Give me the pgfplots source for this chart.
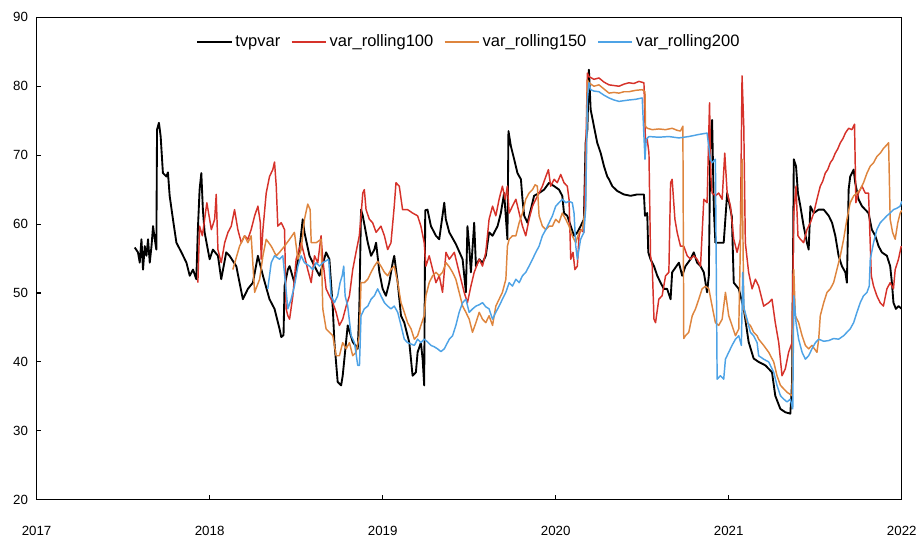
\documentclass[border=0pt]{standalone}
\usepackage{fontspec}
\setmainfont{Liberation Sans}
\usepackage{pgfplots}
\pgfplotsset{compat=1.18}
\definecolor{cRed}{RGB}{214,50,42}
\definecolor{cOrange}{RGB}{222,133,62}
\definecolor{cBlue}{RGB}{78,163,230}

\begin{document}
\begin{tikzpicture}
\begin{axis}[
  scale only axis, width=650pt, height=362.5pt,
  xmin=2017, xmax=2022, ymin=20, ymax=90,
  xtick={2017,2018,2019,2020,2021,2022}, ytick={20,30,40,50,60,70,80,90},
  tick pos=left, tick align=inside, major tick length=3.5pt,
  axis line style={line width=0.8pt},
  tick style={line width=0.8pt, black},
  /pgf/number format/assume math mode=true,
  /pgf/number format/1000 sep={},
  ticklabel style={font=\fontsize{10}{12}\selectfont},
  xticklabel style={yshift=-16pt},
  yticklabel style={xshift=-3pt},
  legend columns=4,
  legend style={at={(0.5,0.975)}, anchor=north, draw=none, fill=none,
    font=\fontsize{12.4}{14}\selectfont,
    /tikz/every even column/.append style={column sep=6pt}},
  legend image code/.code={\draw[#1] (0pt,0pt) -- (26pt,0pt);},
  every axis plot/.append style={line join=round},
]

% tvpvar
\addplot[black, line width=1.4pt] table {
x y
2017.567 56.6
2017.586 55.9
2017.596 54.4
2017.606 57.8
2017.615 53.4
2017.625 56.8
2017.635 55.4
2017.644 57.8
2017.654 54.4
2017.664 56.8
2017.673 59.7
2017.683 57.8
2017.692 56.3
2017.696 73.7
2017.707 74.7
2017.717 72.7
2017.730 67.4
2017.750 66.9
2017.759 67.5
2017.769 64.1
2017.788 60.7
2017.808 57.3
2017.837 55.9
2017.866 54.4
2017.885 52.5
2017.904 53.4
2017.923 52.0
2017.932 59.2
2017.942 65.0
2017.952 67.4
2017.961 62.1
2017.971 58.8
2018.000 54.9
2018.019 56.3
2018.048 55.4
2018.067 52.0
2018.096 55.9
2018.115 55.4
2018.154 53.9
2018.192 49.1
2018.221 50.6
2018.250 51.5
2018.279 55.4
2018.308 52.5
2018.346 49.1
2018.375 47.7
2018.404 44.8
2018.414 43.6
2018.427 43.9
2018.433 51.0
2018.452 53.4
2018.462 53.9
2018.490 51.5
2018.519 56.3
2018.538 60.7
2018.548 58.8
2018.577 55.4
2018.606 53.9
2018.635 52.5
2018.673 55.9
2018.692 54.9
2018.712 47.7
2018.721 42.9
2018.740 37.1
2018.760 36.6
2018.769 38.0
2018.798 45.3
2018.827 42.9
2018.856 41.9
2018.865 47.7
2018.875 62.1
2018.885 61.2
2018.914 57.3
2018.933 55.4
2018.952 56.3
2018.962 57.3
2018.981 53.0
2019.000 50.6
2019.019 49.6
2019.038 51.5
2019.058 54.4
2019.067 55.4
2019.087 51.5
2019.106 46.7
2019.125 45.7
2019.154 42.8
2019.173 38.0
2019.192 38.5
2019.202 41.4
2019.221 42.8
2019.231 40.4
2019.240 36.6
2019.246 62.0
2019.259 62.1
2019.279 59.7
2019.308 58.3
2019.327 57.8
2019.356 63.1
2019.365 60.7
2019.385 58.8
2019.423 57.1
2019.462 54.9
2019.481 50.1
2019.490 59.7
2019.500 56.8
2019.510 53.0
2019.529 60.2
2019.539 53.9
2019.558 54.9
2019.577 54.4
2019.596 55.4
2019.615 58.8
2019.635 58.3
2019.664 59.7
2019.683 61.6
2019.702 64.5
2019.721 57.8
2019.727 73.5
2019.741 71.3
2019.760 69.4
2019.779 67.4
2019.799 66.5
2019.808 63.6
2019.818 61.2
2019.837 60.2
2019.856 62.1
2019.875 64.1
2019.904 64.5
2019.933 65.0
2019.962 66.0
2019.991 65.5
2020.019 65.0
2020.038 64.1
2020.048 61.6
2020.067 61.2
2020.087 59.7
2020.106 58.3
2020.125 58.8
2020.144 59.7
2020.163 60.7
2020.173 71.8
2020.183 73.7
2020.192 82.4
2020.202 76.6
2020.221 74.2
2020.240 71.8
2020.260 70.3
2020.279 68.4
2020.298 66.9
2020.308 66.5
2020.327 65.5
2020.356 64.8
2020.394 64.3
2020.433 64.1
2020.471 64.3
2020.510 64.3
2020.516 61.2
2020.529 61.6
2020.535 55.9
2020.548 54.9
2020.568 53.9
2020.587 52.5
2020.606 51.5
2020.625 50.6
2020.644 50.6
2020.664 49.1
2020.673 53.0
2020.712 54.4
2020.731 52.5
2020.750 53.9
2020.779 54.9
2020.798 55.9
2020.817 54.4
2020.837 53.9
2020.856 53.0
2020.875 50.1
2020.885 52.5
2020.894 71.8
2020.904 75.1
2020.914 62.1
2020.923 57.3
2020.942 57.3
2020.971 57.3
2020.991 64.5
2021.018 61.1
2021.029 51.5
2021.058 50.6
2021.087 47.7
2021.115 42.9
2021.144 40.5
2021.173 40.0
2021.212 39.5
2021.250 38.5
2021.269 35.1
2021.298 33.2
2021.327 32.7
2021.356 32.5
2021.366 37.0
2021.376 69.4
2021.389 68.4
2021.400 64.5
2021.414 62.6
2021.433 59.7
2021.452 57.3
2021.462 56.3
2021.472 62.6
2021.491 61.6
2021.520 62.1
2021.549 62.1
2021.578 61.2
2021.597 60.2
2021.616 58.3
2021.635 55.4
2021.654 53.9
2021.674 53.0
2021.683 51.5
2021.693 65.0
2021.702 66.9
2021.722 67.9
2021.731 66.0
2021.750 63.6
2021.770 62.6
2021.789 62.1
2021.808 61.6
2021.827 59.2
2021.847 58.3
2021.866 56.8
2021.885 55.9
2021.914 55.4
2021.933 53.9
2021.943 51.5
2021.952 48.6
2021.966 47.7
2021.981 48.1
2022.000 47.7
};
\addlegendentry{tvpvar}

% var_rolling100
\addplot[cRed, line width=1.1pt] table {
x y
2017.932 51.5
2017.942 59.7
2017.958 58.3
2017.971 60.7
2017.984 63.1
2018.000 60.7
2018.010 59.2
2018.029 60.7
2018.038 64.3
2018.048 56.3
2018.067 54.4
2018.087 57.3
2018.106 58.8
2018.125 59.7
2018.144 62.1
2018.163 59.2
2018.183 57.3
2018.202 58.3
2018.221 57.8
2018.240 59.2
2018.260 61.2
2018.279 62.6
2018.293 60.2
2018.298 54.9
2018.308 59.2
2018.327 64.5
2018.346 66.9
2018.365 67.9
2018.375 69.0
2018.385 65.5
2018.394 59.7
2018.414 60.2
2018.433 59.2
2018.442 47.7
2018.452 46.7
2018.462 46.2
2018.481 49.6
2018.500 54.9
2018.529 57.3
2018.548 55.4
2018.567 53.4
2018.587 51.5
2018.606 55.4
2018.625 54.4
2018.644 58.3
2018.654 54.9
2018.673 50.6
2018.692 49.6
2018.712 48.6
2018.731 47.2
2018.750 45.3
2018.769 46.2
2018.789 48.1
2018.808 49.6
2018.827 53.4
2018.846 55.9
2018.865 58.3
2018.875 61.2
2018.885 64.5
2018.894 65.0
2018.904 62.1
2018.923 60.7
2018.942 60.2
2018.962 58.8
2018.990 59.7
2019.010 58.3
2019.029 56.3
2019.048 57.3
2019.067 62.6
2019.077 66.0
2019.096 65.5
2019.115 62.1
2019.144 62.1
2019.173 61.6
2019.202 61.2
2019.221 59.7
2019.240 57.3
2019.250 53.9
2019.269 55.4
2019.289 53.4
2019.308 51.5
2019.327 52.5
2019.346 50.1
2019.366 55.9
2019.385 54.9
2019.414 55.9
2019.442 53.0
2019.471 50.1
2019.490 48.6
2019.510 51.0
2019.529 53.0
2019.558 54.9
2019.577 53.9
2019.596 55.9
2019.615 60.7
2019.635 62.6
2019.654 61.2
2019.673 63.6
2019.692 65.5
2019.708 63.6
2019.721 65.5
2019.731 61.6
2019.750 62.6
2019.770 63.6
2019.789 61.6
2019.808 59.7
2019.827 58.3
2019.846 60.7
2019.866 62.6
2019.885 63.6
2019.904 64.5
2019.923 65.5
2019.943 66.9
2019.958 67.9
2019.971 65.5
2019.991 66.5
2020.009 66.0
2020.029 67.2
2020.048 66.0
2020.067 65.5
2020.077 63.6
2020.087 54.9
2020.100 55.9
2020.111 53.4
2020.125 53.9
2020.135 58.3
2020.144 59.2
2020.163 58.8
2020.173 69.4
2020.183 81.9
2020.192 81.4
2020.221 81.0
2020.250 81.2
2020.279 80.6
2020.308 80.2
2020.337 80.1
2020.366 80.0
2020.394 80.3
2020.423 80.5
2020.452 80.4
2020.481 80.7
2020.510 80.5
2020.519 71.8
2020.529 72.3
2020.539 70.3
2020.548 55.4
2020.558 53.9
2020.568 46.2
2020.577 45.7
2020.596 49.1
2020.615 49.6
2020.635 52.5
2020.654 53.0
2020.664 66.0
2020.673 66.5
2020.689 60.7
2020.702 58.8
2020.721 56.8
2020.740 56.8
2020.760 55.4
2020.779 54.9
2020.798 55.4
2020.817 54.9
2020.837 53.9
2020.856 63.6
2020.875 63.1
2020.889 77.6
2020.897 66.9
2020.904 64.5
2020.923 64.1
2020.942 64.5
2020.962 63.6
2020.977 70.3
2020.991 64.5
2021.010 62.6
2021.029 57.8
2021.048 55.9
2021.067 57.8
2021.077 81.5
2021.087 74.2
2021.096 57.3
2021.115 53.0
2021.135 50.6
2021.154 52.0
2021.173 51.0
2021.202 48.1
2021.231 48.6
2021.250 49.1
2021.269 45.7
2021.289 42.8
2021.308 38.0
2021.327 39.0
2021.346 41.4
2021.366 42.8
2021.376 61.6
2021.389 65.5
2021.400 58.3
2021.414 57.8
2021.433 57.3
2021.452 59.2
2021.472 60.2
2021.491 61.6
2021.510 63.6
2021.529 65.5
2021.543 66.2
2021.558 67.4
2021.572 67.9
2021.587 68.9
2021.601 69.4
2021.616 70.3
2021.630 70.9
2021.645 71.8
2021.660 72.4
2021.674 73.2
2021.693 73.9
2021.712 73.7
2021.727 74.5
2021.735 63.1
2021.750 64.5
2021.770 65.5
2021.789 64.5
2021.808 64.5
2021.824 52.5
2021.837 51.0
2021.856 49.6
2021.875 48.6
2021.894 48.1
2021.914 50.6
2021.933 51.5
2021.952 50.6
2021.962 53.4
2021.981 54.9
2021.997 56.8
};
\addlegendentry{var\_rolling100}

% var_rolling150
\addplot[cOrange, line width=1.1pt] table {
x y
2018.134 53.4
2018.173 56.8
2018.202 58.3
2018.221 57.3
2018.240 58.3
2018.260 50.1
2018.289 52.0
2018.308 55.4
2018.327 57.8
2018.356 56.8
2018.385 55.4
2018.404 55.9
2018.433 56.8
2018.462 57.8
2018.490 58.8
2018.510 54.9
2018.529 56.3
2018.548 60.7
2018.567 62.9
2018.581 62.1
2018.587 57.3
2018.616 57.3
2018.644 57.8
2018.654 47.7
2018.673 44.8
2018.692 44.3
2018.712 43.8
2018.731 40.9
2018.750 40.9
2018.769 42.8
2018.789 41.9
2018.808 42.8
2018.827 40.9
2018.846 41.4
2018.865 43.8
2018.875 51.5
2018.894 51.5
2018.914 52.0
2018.933 53.0
2018.952 53.9
2018.971 54.6
2018.990 53.9
2019.010 53.0
2019.029 52.5
2019.048 53.4
2019.067 53.9
2019.087 51.5
2019.106 48.6
2019.125 47.2
2019.144 45.7
2019.164 44.8
2019.183 43.3
2019.202 43.8
2019.221 45.3
2019.240 46.7
2019.250 49.6
2019.269 51.5
2019.289 52.5
2019.308 53.0
2019.327 52.5
2019.346 53.0
2019.366 54.4
2019.385 53.8
2019.404 53.0
2019.423 52.0
2019.442 50.1
2019.462 48.1
2019.481 47.2
2019.500 46.2
2019.519 44.3
2019.539 45.7
2019.558 47.2
2019.577 46.2
2019.596 45.7
2019.615 46.7
2019.635 45.3
2019.654 48.1
2019.673 49.1
2019.692 50.1
2019.712 52.0
2019.721 56.8
2019.731 57.8
2019.750 58.3
2019.770 58.3
2019.789 60.2
2019.808 61.6
2019.827 63.6
2019.846 64.5
2019.866 65.0
2019.881 65.7
2019.894 65.5
2019.904 61.2
2019.923 59.7
2019.943 59.2
2019.962 59.7
2019.981 59.7
2020.000 60.7
2020.019 60.2
2020.038 61.6
2020.058 60.7
2020.077 59.7
2020.096 58.3
2020.116 57.3
2020.135 58.8
2020.154 59.2
2020.173 62.6
2020.183 80.9
2020.192 80.5
2020.221 80.0
2020.250 80.2
2020.279 79.6
2020.308 79.0
2020.337 79.1
2020.366 79.0
2020.394 79.2
2020.423 79.2
2020.461 79.4
2020.500 79.5
2020.516 79.2
2020.519 74.2
2020.529 73.9
2020.558 73.7
2020.596 73.8
2020.635 73.7
2020.673 73.9
2020.702 73.6
2020.721 73.5
2020.735 74.2
2020.740 43.4
2020.750 43.8
2020.769 44.3
2020.789 46.7
2020.808 47.7
2020.827 49.1
2020.846 50.6
2020.866 51.0
2020.885 50.6
2020.904 48.1
2020.923 45.7
2020.942 45.3
2020.962 46.2
2020.981 50.1
2021.000 46.7
2021.019 45.3
2021.039 43.8
2021.058 44.8
2021.077 69.4
2021.087 47.7
2021.106 45.7
2021.125 45.3
2021.144 44.3
2021.164 43.8
2021.173 43.3
2021.202 42.4
2021.231 41.4
2021.260 40.0
2021.279 38.0
2021.299 36.6
2021.318 36.1
2021.337 35.6
2021.366 35.1
2021.376 53.4
2021.385 46.7
2021.404 45.7
2021.424 43.8
2021.443 42.4
2021.462 41.9
2021.481 42.4
2021.510 41.4
2021.520 43.3
2021.529 46.7
2021.549 48.6
2021.568 50.1
2021.587 50.6
2021.606 51.5
2021.625 53.4
2021.645 55.4
2021.664 57.8
2021.683 60.7
2021.702 63.1
2021.722 64.1
2021.741 64.5
2021.760 65.0
2021.779 66.0
2021.799 67.4
2021.818 68.4
2021.837 68.9
2021.856 69.8
2021.876 70.3
2021.895 71.0
2021.914 71.5
2021.924 71.8
2021.933 60.7
2021.947 58.8
2021.962 57.8
2021.977 60.2
2021.991 61.6
2022.000 62.0
};
\addlegendentry{var\_rolling150}

% var_rolling200
\addplot[cBlue, line width=1.1pt] table {
x y
2018.336 50.6
2018.356 54.4
2018.375 55.4
2018.404 54.9
2018.423 55.4
2018.443 50.1
2018.452 47.7
2018.471 49.1
2018.490 51.0
2018.510 53.9
2018.529 55.4
2018.548 54.4
2018.577 53.9
2018.596 53.4
2018.616 54.4
2018.635 53.9
2018.654 54.4
2018.688 54.9
2018.702 49.6
2018.721 48.6
2018.740 49.6
2018.754 51.5
2018.766 52.5
2018.775 53.9
2018.783 49.6
2018.798 48.1
2018.818 43.8
2018.837 42.8
2018.856 39.5
2018.866 39.5
2018.875 46.7
2018.894 47.7
2018.914 48.1
2018.933 49.1
2018.952 49.6
2018.971 50.6
2018.990 49.6
2019.010 48.6
2019.029 48.1
2019.048 47.7
2019.067 48.1
2019.087 47.2
2019.106 45.3
2019.125 43.3
2019.144 42.8
2019.164 42.6
2019.183 42.4
2019.202 43.3
2019.221 42.8
2019.240 43.3
2019.260 42.9
2019.279 42.4
2019.298 42.2
2019.317 41.9
2019.337 41.5
2019.356 41.9
2019.385 43.3
2019.404 43.8
2019.423 45.3
2019.442 47.2
2019.462 48.6
2019.481 49.1
2019.500 47.2
2019.520 47.7
2019.539 48.1
2019.558 48.3
2019.577 48.6
2019.596 48.0
2019.615 47.7
2019.635 46.2
2019.654 47.2
2019.673 48.1
2019.692 49.1
2019.712 50.1
2019.731 51.5
2019.750 51.0
2019.770 52.0
2019.789 51.5
2019.808 52.5
2019.827 53.0
2019.846 53.9
2019.866 54.9
2019.885 55.9
2019.904 56.8
2019.923 58.3
2019.943 59.2
2019.962 60.2
2019.981 61.2
2020.000 62.6
2020.019 63.1
2020.038 63.6
2020.058 63.1
2020.077 63.3
2020.096 63.1
2020.106 61.6
2020.116 56.8
2020.125 54.9
2020.144 57.8
2020.163 58.8
2020.173 62.1
2020.183 78.0
2020.192 80.5
2020.202 79.5
2020.221 79.3
2020.250 79.2
2020.279 78.7
2020.308 78.3
2020.337 78.0
2020.366 77.8
2020.394 77.9
2020.423 78.0
2020.461 78.1
2020.500 78.3
2020.516 69.4
2020.523 72.3
2020.539 72.7
2020.596 72.6
2020.654 72.7
2020.712 72.5
2020.769 72.7
2020.827 73.0
2020.875 73.2
2020.894 69.4
2020.904 68.9
2020.923 69.4
2020.933 37.5
2020.952 38.0
2020.971 37.5
2020.981 40.4
2021.000 41.4
2021.019 42.4
2021.039 43.3
2021.058 43.8
2021.073 42.4
2021.081 53.0
2021.089 47.7
2021.106 46.2
2021.125 44.3
2021.144 43.8
2021.164 42.8
2021.173 40.9
2021.202 40.4
2021.231 40.0
2021.260 38.5
2021.279 36.6
2021.299 35.1
2021.318 34.6
2021.337 34.2
2021.356 34.6
2021.370 33.2
2021.376 49.6
2021.389 45.7
2021.404 43.3
2021.424 41.4
2021.443 40.4
2021.462 40.9
2021.481 41.9
2021.501 42.8
2021.520 43.3
2021.549 43.0
2021.578 43.1
2021.606 43.4
2021.635 43.3
2021.664 43.8
2021.683 44.3
2021.702 44.8
2021.722 45.7
2021.741 47.2
2021.760 48.6
2021.779 49.6
2021.799 50.1
2021.812 51.0
2021.818 54.9
2021.837 57.3
2021.856 59.2
2021.876 60.2
2021.895 60.7
2021.914 61.2
2021.933 61.6
2021.952 62.1
2021.972 62.3
2021.991 62.6
2022.000 63.3
};
\addlegendentry{var\_rolling200}
\end{axis}
% page frame: keeps the same white margin round the axis box
\path (current axis.south west) ++(-27.5pt,-26.5pt) rectangle ++(690.75pt,402pt);
\end{tikzpicture}
\end{document}
